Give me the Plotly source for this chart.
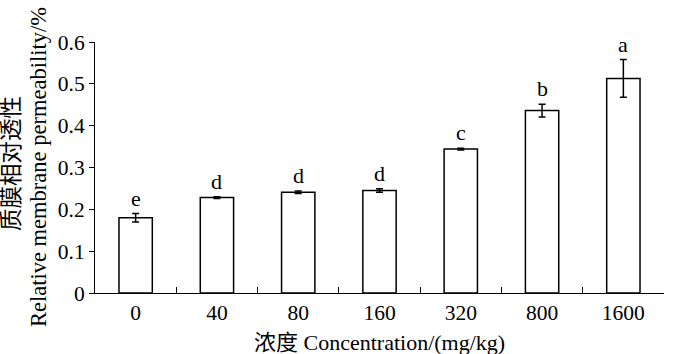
import plotly.graph_objects as go

categories = ["0", "40", "80", "160", "320", "800", "1600"]
values = [0.180, 0.228, 0.241, 0.245, 0.344, 0.436, 0.513]
errors = [0.010, 0.002, 0.003, 0.004, 0.002, 0.015, 0.045]
letters = ["e", "d", "d", "d", "c", "b", "a"]
yticks = [0, 0.1, 0.2, 0.3, 0.4, 0.5, 0.6]
yticktext = ["0", "0.1", "0.2", "0.3", "0.4", "0.5", "0.6"]
x_title = "浓度 Concentration/(mg/kg)"
y_title_cn = "质膜相对透性"
y_title_en = "Relative membrane permeability/%"

SERIF = "Liberation Serif, Times New Roman, serif"
CJK = "Liberation Serif, Noto Sans CJK SC, serif"

L, R, T, B = 95, 36, 42, 61
W, H = 700, 354
PW, PH = W - L - R, H - T - B


def px(x):
    return (x - L) / PW


def py(y):
    return (H - B - y) / PH


fig = go.Figure()
fig.add_trace(go.Bar(
    x=categories, y=values, width=0.41,
    marker=dict(color="white", line=dict(color="black", width=1.5)),
    error_y=dict(type="data", array=errors, visible=True, color="black",
                 thickness=1.5, width=3.5),
    showlegend=False,
))

for i, (v, e, l) in enumerate(zip(values, errors, letters)):
    fig.add_annotation(x=i, y=v + e, text=l, showarrow=False, yanchor="bottom",
                       yshift=1, font=dict(family=SERIF, size=22, color="black"))

fig.add_annotation(xref="paper", yref="paper", x=0.5, y=py(342), text=x_title,
                   showarrow=False, xanchor="center", yanchor="middle",
                   font=dict(family=CJK, size=22, color="black"))
fig.add_annotation(xref="paper", yref="paper", x=px(11), y=py(164), text=y_title_cn,
                   showarrow=False, xanchor="center", yanchor="middle", textangle=-90,
                   font=dict(family=CJK, size=22.5, color="black"))
fig.add_annotation(xref="paper", yref="paper", x=px(38), y=py(167), text=y_title_en,
                   showarrow=False, xanchor="center", yanchor="middle", textangle=-90,
                   font=dict(family=SERIF, size=22.5, color="black"))

fig.update_layout(
    width=W, height=H,
    margin=dict(l=L, r=R, t=T, b=B),
    paper_bgcolor="white", plot_bgcolor="white",
    font=dict(family=SERIF, size=21.5, color="black"),
    xaxis=dict(type="category", tickson="boundaries", ticks="inside", ticklen=6,
               tickcolor="black", showline=True, linecolor="black", linewidth=1,
               showgrid=False, tickfont=dict(family=SERIF, size=21.5),
               range=[-0.5, 6.5], automargin=False),
    yaxis=dict(range=[0, 0.6], tickvals=yticks, ticktext=yticktext,
               ticks="outside", ticklen=5, tickcolor="black", showline=True,
               linecolor="black", linewidth=1, showgrid=False, zeroline=False,
               tickfont=dict(family=SERIF, size=21.5), automargin=False),
)

fig.write_html("out.html")
